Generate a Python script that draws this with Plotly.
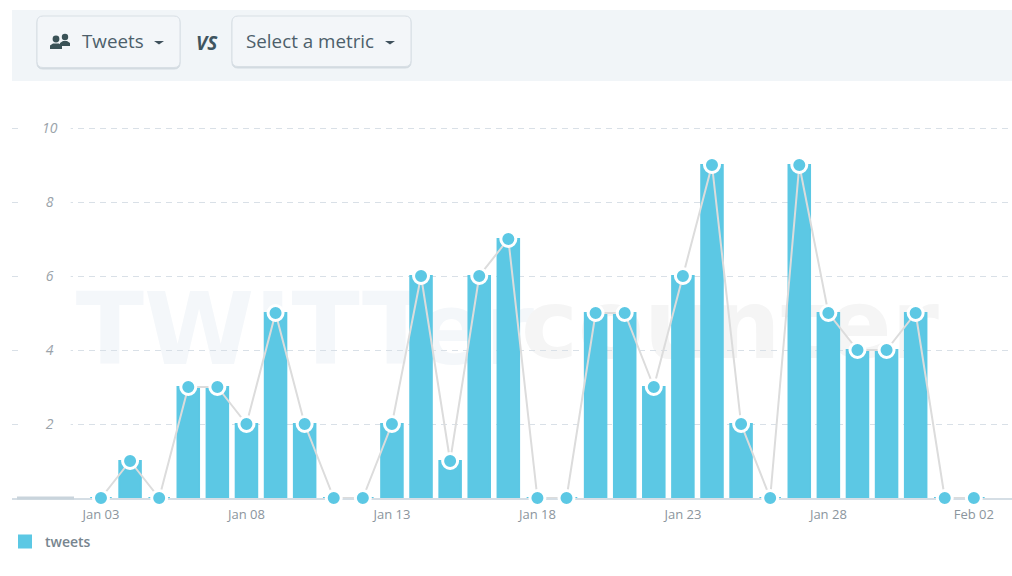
import plotly.graph_objects as go

W, H = 1012, 576
dates = ["2016-01-%02d" % d for d in range(3, 32)] + ["2016-02-01", "2016-02-02"]
tweets = [0, 1, 0, 3, 3, 2, 5, 2, 0, 0, 2, 6, 1, 6, 7, 0, 0, 5, 5, 3, 6, 9, 2, 0, 9, 5, 4, 4, 5, 0, 0]
y_ticks = [2, 4, 6, 8, 10]
y_tick_text = ["\u00a02", "\u00a04", "\u00a06", "\u00a08", "10"]
series_name = "tweets"

BLUE = "#5cc8e4"
TXT = "#4d5f6b"
px = lambda x: x / W
py = lambda y: 1 - y / H


def rrect(x0, y0, x1, y1, r, fill, line=None):
    X0, X1, Y0, Y1, Rx, Ry = px(x0), px(x1), py(y0), py(y1), r / W, r / H
    p = (f"M{X0+Rx},{Y0} L{X1-Rx},{Y0} Q{X1},{Y0} {X1},{Y0-Ry} L{X1},{Y1+Ry} Q{X1},{Y1} {X1-Rx},{Y1} "
         f"L{X0+Rx},{Y1} Q{X0},{Y1} {X0},{Y1+Ry} L{X0},{Y0-Ry} Q{X0},{Y0} {X0+Rx},{Y0} Z")
    return dict(type="path", path=p, xref="paper", yref="paper", fillcolor=fill,
                line=dict(color=line or fill, width=1), layer="above")


def box(x0, y0, x1, y1, fill, layer="above"):
    return dict(type="rect", xref="paper", yref="paper", x0=px(x0), x1=px(x1), y0=py(y1), y1=py(y0),
                fillcolor=fill, line=dict(width=0), layer=layer)


def poly(pts, fill):
    p = "M" + " L".join(f"{px(a)},{py(b)}" for a, b in pts) + " Z"
    return dict(type="path", path=p, xref="paper", yref="paper", fillcolor=fill, line=dict(width=0), layer="above")


def disc(cx, cy, r, fill):
    return dict(type="circle", xref="paper", yref="paper", x0=px(cx - r), x1=px(cx + r), y0=py(cy + r), y1=py(cy - r),
                fillcolor=fill, line=dict(width=0), layer="above")


def mark(x0, x1, y0, y1, text, color, size):
    s = box(x0, y0, x1, y1, "rgba(0,0,0,0)", "between")
    s["label"] = dict(text=text, textposition="middle center",
                      font=dict(family="DejaVu Sans", size=size, color=color, weight="bold"))
    return s


shapes = [
    box(12, 10, 1012, 81, "#f1f5f8"),
    rrect(37, 17, 180, 69, 6, "#d3dbe1"),
    rrect(37, 16, 180, 67.5, 6, "#f3f6f9", "#d8dfe5"),
    rrect(232, 17, 411, 68, 6, "#d3dbe1"),
    rrect(232, 16, 411, 66.5, 6, "#f3f6f9", "#d8dfe5"),
    disc(65, 37, 3.2, "#3a5257"),
    poly([(60, 46), (60, 43), (63, 41), (67, 41), (70, 43), (70, 46)], "#3a5257"),
    disc(56, 39, 3.4, "#3a5257"),
    poly([(50, 49), (50, 45.5), (53, 43.5), (59, 43.5), (62, 45.5), (62, 49)], "#3a5257"),
    poly([(154, 41), (164, 41), (159, 44.5)], "#3f515c"),
    poly([(385, 41), (395, 41), (390, 44.5)], "#3f515c"),
    dict(type="rect", xref="x", yref="y", x0="2015-12-31 06:00", x1="2016-01-01 23:00", y0=0.2, y1=10.6,
         fillcolor="#ffffff", line=dict(width=0), layer="between"),
    mark(85, 525, 280, 365, "TWITTer", "#f4f7fa", 100),
    mark(525, 935, 275, 360, "counter", "#f5f5f5", 96),
    box(17, 496.5, 74, 499.5, "#c9d4dc"),
]

annotations = [
    dict(text="Tweets", x=px(79.5), y=py(41), font=dict(family="Open Sans", size=18.8, color=TXT)),
    dict(text="VS", x=px(194), y=py(43), font=dict(family="Open Sans", size=19, color="#3f5560", weight="bold", style="italic")),
    dict(text="Select a metric", x=px(244), y=py(41), font=dict(family="Open Sans", size=18.8, color=TXT)),
]
for a in annotations:
    a.update(xref="paper", yref="paper", xanchor="left", yanchor="middle", showarrow=False)

fig = go.Figure()
fig.add_bar(x=dates, y=tweets, name=series_name, marker=dict(color=BLUE, line=dict(color=BLUE, width=2)),
            width=0.74 * 86400000, hoverinfo="x+y")
fig.add_scatter(x=dates, y=tweets, mode="lines+markers", showlegend=False, name=series_name, cliponaxis=False,
                line=dict(color="#dcdcdc", width=2),
                marker=dict(color=BLUE, size=15, line=dict(color="#ffffff", width=3)))

fig.update_layout(
    width=W, height=H, margin=dict(l=0, r=0, t=0, b=0), paper_bgcolor="white", plot_bgcolor="rgba(0,0,0,0)",
    shapes=shapes, annotations=annotations, showlegend=True,
    legend=dict(x=px(5), y=py(526), xanchor="left", yanchor="top", bgcolor="rgba(0,0,0,0)",
                font=dict(family="Open Sans", size=14, color="#77858f", weight=600)),
    xaxis=dict(type="date", domain=[px(12), 1], range=["2015-12-30 22:36", "2016-02-03 07:28"],
               tick0="2016-01-03", dtick=5 * 86400000, tickformat="%b %d", ticks="", showgrid=False, zeroline=False,
               showline=True, linecolor="#d5dee5", linewidth=2, layer="below traces", ticklabelstandoff=3,
               tickfont=dict(family="Open Sans", size=13, color="#8b959d")),
    yaxis=dict(domain=[py(498), py(85)], range=[0, 413 / 37], tickmode="array", tickvals=y_ticks, ticktext=y_tick_text,
               ticklabelposition="inside", ticks="", showline=False, zeroline=False, layer="below traces", ticklabelstandoff=27,
               gridcolor="#d9e0e7", griddash="6px,5px", gridwidth=1,
               tickfont=dict(family="Open Sans", size=14, color="#9aa3aa", style="italic")),
)
fig.write_html("out.html", config=dict(displayModeBar=False),
               post_script="document.body.style.margin='0';document.body.style.overflow='hidden';")
